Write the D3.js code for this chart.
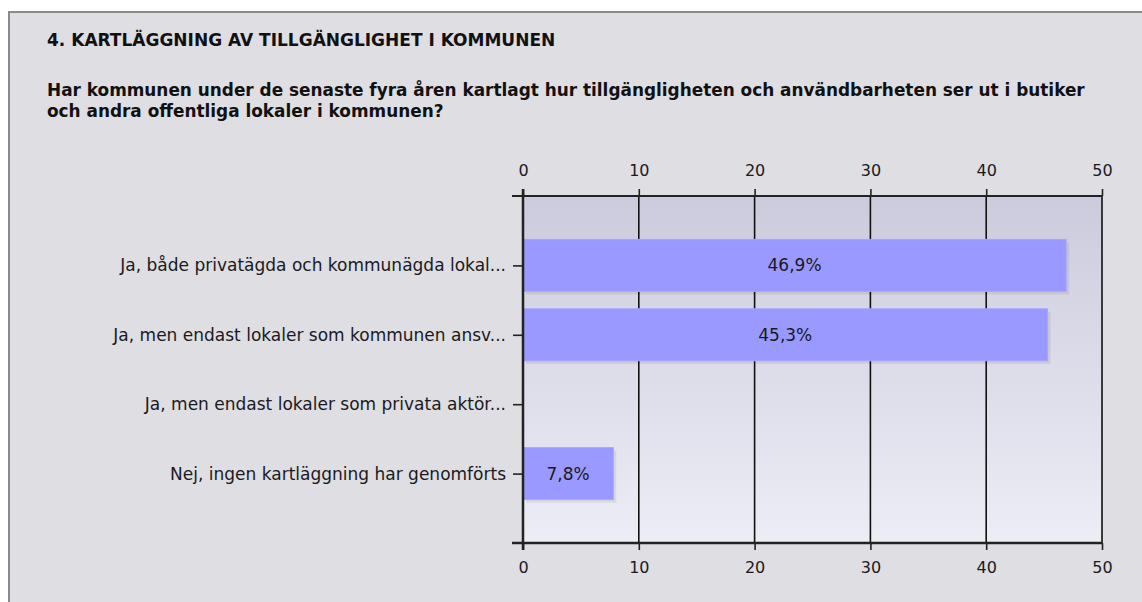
<!DOCTYPE html>
<html>
<head>
<meta charset="utf-8">
<script src="https://cdn.jsdelivr.net/npm/d3@7.9.0/dist/d3.min.js"></script>
<style>
  html, body { margin: 0; padding: 0; background: #fff; }
  svg { display: block; font-family: Tahoma, "DejaVu Sans", Verdana, sans-serif; }
</style>
</head>
<body>
<svg id="chart" width="1142" height="602"></svg>
<script>
const heading = '4. KARTLÄGGNING AV TILLGÄNGLIGHET I KOMMUNEN';
const question = [
  'Har kommunen under de senaste fyra åren kartlagt hur tillgängligheten och användbarheten ser ut i butiker',
  'och andra offentliga lokaler i kommunen?'
];
const categories = [
  'Ja, både privatägda och kommunägda lokal...',
  'Ja, men endast lokaler som kommunen ansv...',
  'Ja, men endast lokaler som privata aktör...',
  'Nej, ingen kartläggning har genomförts'
];
const values = [46.9, 45.3, 0, 7.8];
const ticks = [0, 10, 20, 30, 40, 50];

const svg = d3.select('#chart');

// panel
svg.append('rect').attr('x', 8).attr('y', 11).attr('width', 1134).attr('height', 591)
  .attr('fill', '#dfdee3');
svg.append('path').attr('d', 'M9,602V12H1142')
  .attr('fill', 'none').attr('stroke', '#8a8a86').attr('stroke-width', 2);

svg.append('text').attr('x', 47).attr('y', 46)
  .style('font-size', '17px').style('font-weight', 'bold').attr('fill', '#111')
  .text(heading);
question.forEach((t, i) => {
  svg.append('text').attr('x', 47).attr('y', 96 + i * 21)
    .style('font-size', '16.9px').style('font-weight', 'bold').attr('fill', '#111')
    .text(t);
});

const margin = { top: 196, left: 523 };
const width = 579, height = 347;

const defs = svg.append('defs');
const grad = defs.append('linearGradient').attr('id', 'bg').attr('x1', 0).attr('y1', 0).attr('x2', 0).attr('y2', 1);
grad.append('stop').attr('offset', '0%').attr('stop-color', '#cbcbdd');
grad.append('stop').attr('offset', '100%').attr('stop-color', '#ededf6');

const g = svg.append('g').attr('transform', `translate(${margin.left},${margin.top})`);

const x = d3.scaleLinear().domain([0, 50]).range([0, width]);
const y = d3.scalePoint().domain(categories).range([0, height]).padding(1);
const barH = 52;

g.append('rect').attr('width', width).attr('height', height).attr('fill', 'url(#bg)');

// grid
g.selectAll('.grid').data(ticks).join('line')
  .attr('x1', d => x(d)).attr('x2', d => x(d))
  .attr('y1', 0).attr('y2', height)
  .attr('stroke', '#111').attr('stroke-width', 1.6);

// bar shadows
const shown = categories.map((c, i) => ({ c, v: values[i] })).filter(d => d.v > 0);
g.selectAll('.shadow').data(shown).join('rect')
  .attr('x', 3).attr('y', d => y(d.c) - barH / 2 + 3)
  .attr('width', d => x(d.v)).attr('height', barH)
  .attr('fill', '#000').attr('opacity', 0.07);

// bars
g.selectAll('.bar').data(shown).join('rect')
  .attr('x', 0).attr('y', d => y(d.c) - barH / 2)
  .attr('width', d => x(d.v)).attr('height', barH)
  .attr('fill', '#9999ff').attr('stroke', '#a6a6ff').attr('stroke-width', 1);

// value labels
g.selectAll('.val').data(shown).join('text')
  .attr('x', d => x(d.v) / 2).attr('y', d => y(d.c))
  .attr('dy', '0.35em').attr('text-anchor', 'middle')
  .style('font-size', '17px').attr('fill', '#1a1a22')
  .text(d => d3.format('.1f')(d.v).replace('.', ',') + '%');

// axes
const axStyle = size => sel => {
  sel.select('.domain').remove();
  sel.selectAll('.tick line').attr('stroke', '#222').attr('stroke-width', 1.6);
  sel.selectAll('.tick text').style('font-size', size).attr('fill', '#1a1a22')
    .style('font-family', 'Tahoma, "DejaVu Sans", Verdana, sans-serif');
};
g.append('g').call(d3.axisTop(x).tickValues(ticks).tickSize(7).tickPadding(13)).call(axStyle('16px'));
g.append('g').attr('transform', `translate(0,${height})`)
  .call(d3.axisBottom(x).tickValues(ticks).tickSize(7).tickPadding(12)).call(axStyle('16px'));
g.append('g').call(d3.axisLeft(y).tickSize(10).tickPadding(7)).call(axStyle('17px'));

// axis lines extend past the corner like the original
g.append('line').attr('x1', -11).attr('x2', width).attr('y1', 0).attr('y2', 0)
  .attr('stroke', '#222').attr('stroke-width', 2);
g.append('line').attr('x1', -11).attr('x2', width).attr('y1', height).attr('y2', height)
  .attr('stroke', '#222').attr('stroke-width', 2.5);
g.append('line').attr('x1', 0).attr('x2', 0).attr('y1', -7).attr('y2', height + 7)
  .attr('stroke', '#222').attr('stroke-width', 2.5);
</script>
</body>
</html>
